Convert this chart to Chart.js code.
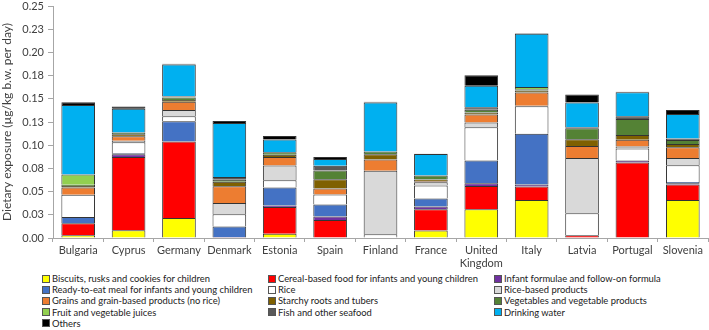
<!DOCTYPE html>
<html>
<head>
<meta charset="utf-8">
<script src="https://cdn.jsdelivr.net/npm/chart.js@4.4.1/dist/chart.umd.min.js"></script>
<style>
  html, body { margin: 0; padding: 0; background: #fff; }
  #wrap { position: relative; width: 709px; height: 330px; overflow: hidden; }
  #chartBox { position: absolute; left: 0; top: 0; width: 709px; height: 272px; }
  #legend { position: absolute; left: 0; top: 273px; width: 709px; height: 57px; font-family: Lato, "Liberation Sans", sans-serif; font-size: 9.4px; color: #222; }
  .li { position: absolute; height: 11px; line-height: 11px; white-space: nowrap; display: flex; align-items: center; }
  .sw { width: 6px; height: 6px; border: 1px solid #555; margin-right: 2px; box-sizing: content-box; }
</style>
</head>
<body>
<div id="wrap">
  <div id="chartBox"><canvas id="c"></canvas></div>
  <div id="legend"></div>
</div>
<script>
const categories = ['Bulgaria', 'Cyprus', 'Germany', 'Denmark', 'Estonia', 'Spain', 'Finland', 'France', ['United', 'Kingdom'], 'Italy', 'Latvia', 'Portugal', 'Slovenia'];
const yTickLabels = ['0.00', '0.03', '0.05', '0.08', '0.10', '0.13', '0.15', '0.18', '0.20', '0.23', '0.25'];

const biscuits      = [0.003, 0.0083, 0.0216, 0, 0.0047, 0, 0, 0.008, 0.031, 0.041, 0, 0, 0.041];
const cereal        = [0.013, 0.079, 0.0824, 0, 0.0287, 0.0195, 0, 0.023, 0.0251, 0.0145, 0.0029, 0.0814, 0.0166];
const infantFormula = [0, 0.0029, 0, 0.001, 0.0015, 0.0036, 0, 0.0029, 0.0029, 0.0022, 0, 0.0022, 0.0014];
const readyMeal     = [0.0065, 0.001, 0.0219, 0.0115, 0.0194, 0.013, 0, 0.0086, 0.0245, 0.0546, 0, 0, 0.0014];
const rice          = [0.024, 0.012, 0.0054, 0.013, 0.0079, 0.0108, 0.004, 0.014, 0.0359, 0.0296, 0.0237, 0.0129, 0.018];
const riceProducts  = [0, 0.0015, 0.0065, 0.0122, 0.0159, 0, 0.0684, 0.0036, 0.0051, 0.0005, 0.0597, 0.0022, 0.0079];
const grains        = [0.008, 0.005, 0.009, 0.018, 0.0093, 0.0065, 0.0122, 0.001, 0.0086, 0.0144, 0.0129, 0.0071, 0.0115];
const starchy       = [0.0015, 0.002, 0.002, 0.005, 0.0022, 0.01, 0.0057, 0.002, 0.0022, 0.0022, 0.0072, 0.0051, 0.0036];
const vegetables    = [0.0015, 0.002, 0.0025, 0.002, 0.0029, 0.0094, 0.0029, 0.0043, 0.0028, 0.0014, 0.0119, 0.0173, 0.0043];
const juices        = [0.011, 0, 0.0012, 0, 0, 0, 0, 0, 0, 0.0022, 0, 0, 0];
const fish          = [0, 0, 0.0004, 0.0029, 0, 0.0051, 0, 0, 0.0029, 0, 0.001, 0.0029, 0.0015];
const water         = [0.0748, 0.0256, 0.034, 0.0583, 0.0137, 0.0071, 0.0527, 0.023, 0.023, 0.0576, 0.0267, 0.0259, 0.0265];
const others        = [0.0029, 0.0025, 0.0009, 0.0022, 0.0036, 0.0022, 0.0008, 0.0005, 0.0115, 0.0005, 0.0086, 0.0005, 0.0043];

const seriesLabels = [
  'Biscuits, rusks and cookies for children',
  'Cereal-based food for infants and young children',
  'Infant formulae and follow-on formula',
  'Ready-to-eat meal for infants and young children',
  'Rice',
  'Rice-based products',
  'Grains and grain-based products (no rice)',
  'Starchy roots and tubers',
  'Vegetables and vegetable products',
  'Fruit and vegetable juices',
  'Fish and other seafood',
  'Drinking water',
  'Others'
];
const seriesData = [biscuits, cereal, infantFormula, readyMeal, rice, riceProducts, grains, starchy, vegetables, juices, fish, water, others];
const seriesColors = ['#FFFF00', '#FF0000', '#7030A0', '#4472C4', '#FFFFFF', '#D9D9D9', '#ED7D31', '#7F6000', '#548235', '#92D050', '#595959', '#00B0F0', '#000000'];

const FONT = 'Lato, "Liberation Sans", sans-serif';

const datasets = seriesLabels.map((lab, i) => ({
  label: lab,
  data: seriesData[i],
  backgroundColor: seriesColors[i],
  borderColor: '#333333',
  borderWidth: (ctx) => (ctx.raw > 0 ? 1 : 0),
  categoryPercentage: 0.668,
  barPercentage: 1.0
}));

new Chart(document.getElementById('c'), {
  type: 'bar',
  data: { labels: categories, datasets },
  options: {
    responsive: true,
    maintainAspectRatio: false,
    animation: false,
    layout: { padding: { top: 6, right: 1, left: 0, bottom: 0 } },
    plugins: { legend: { display: false }, tooltip: { enabled: false } },
    scales: {
      x: {
        stacked: true,
        grid: { display: true, drawOnChartArea: false, drawTicks: true, tickLength: 4, color: '#A6A6A6' },
        border: { display: true, color: '#A6A6A6' },
        ticks: { color: '#404040', font: { family: FONT, size: 11 }, padding: 2, maxRotation: 0, autoSkip: false },
        afterFit: (s) => { s.height = 34; s.paddingLeft = 0; s.paddingRight = 0; }
      },
      y: {
        stacked: true,
        min: 0,
        max: 0.25,
        grid: { display: true, drawOnChartArea: false, drawTicks: true, tickLength: 5, color: '#A6A6A6' },
        border: { display: true, color: '#A6A6A6' },
        ticks: {
          stepSize: 0.025,
          color: '#404040',
          font: { family: FONT, size: 11 },
          padding: 4,
          callback: (v, i) => yTickLabels[i]
        },
        title: { display: true, text: 'Dietary exposure (µg/kg b.w. per day)', color: '#404040', font: { family: FONT, size: 12 }, padding: { top: 0, bottom: 2 } },
        afterFit: (s) => { s.width = 53; s.paddingTop = 0; s.paddingBottom = 0; }
      }
    }
  }
});

// HTML legend in 3 columns (row-wise order)
const legend = document.getElementById('legend');
const colX = [42, 268, 494];
const rowY = [0, 11.2, 22.4, 33.6, 44.8];
seriesLabels.forEach((lab, i) => {
  const item = document.createElement('div');
  item.className = 'li';
  item.style.left = colX[i % 3] + 'px';
  item.style.top = rowY[Math.floor(i / 3)] + 'px';
  const sw = document.createElement('span');
  sw.className = 'sw';
  sw.style.background = seriesColors[i];
  const tx = document.createElement('span');
  tx.textContent = lab;
  item.appendChild(sw);
  item.appendChild(tx);
  legend.appendChild(item);
});
</script>
</body>
</html>
